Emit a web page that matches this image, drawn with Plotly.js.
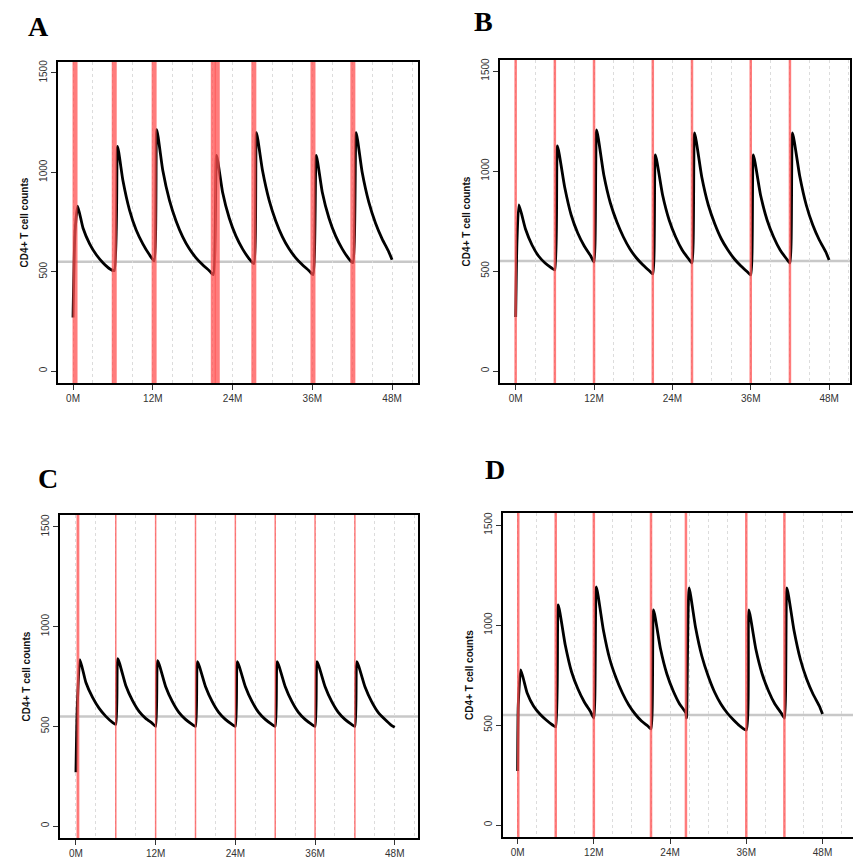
<!DOCTYPE html><html><head><script src="https://cdn.plot.ly/plotly-3.0.1.min.js"></script></head><body style="margin:0"><div id="g" style="width:853px;height:862px"></div><script>
// Panel A
var doseA=[0.3,6.2,12.2,21.1,21.7,27.2,36.1,42.1];
var xA=[0,0.3,0.7,1.5,2.5,3.5,4.5,5.5,6.2,6.7,7.5,8.5,9.5,10.5,11.5,12.2,12.6,13.5,14.5,15.5,16.5,17.5,18.5,19.5,20.5,21.1,21.6,22.5,23.5,24.5,25.5,26.5,27.2,27.6,28.5,29.5,30.5,31.5,32.5,33.5,34.5,35.5,36.1,36.6,37.5,38.5,39.5,40.5,41.5,42.1,42.6,43.5,44.5,45.5,46.5,47.5,48];
var yA=[270,700,830,720,640,585,545,515,505,1130,960,810,710,640,585,555,1215,1010,860,755,675,615,570,535,505,485,1085,900,770,680,615,565,540,1200,1010,860,755,675,615,570,535,505,485,1085,900,770,680,615,565,545,1200,1000,850,745,665,600,560];
// Panel B
var doseB=[0,6,12,21,27,36,42];
var xB=[0,0.2,0.5,1.5,2.5,3.5,4.5,5.5,6,6.4,7.5,8.5,9.5,10.5,11.5,12,12.4,13.5,14.5,15.5,16.5,17.5,18.5,19.5,20.5,21,21.4,22.5,23.5,24.5,25.5,26.5,27,27.4,28.5,29.5,30.5,31.5,32.5,33.5,34.5,35.5,36,36.4,37.5,38.5,39.5,40.5,41.5,42,42.4,43.5,44.5,45.5,46.5,47.5,48];
var yB=[270,650,830,710,630,575,540,515,505,1125,920,780,690,625,575,545,1205,980,840,745,670,610,565,530,500,485,1080,880,755,670,605,560,540,1190,970,830,735,660,605,560,525,495,480,1080,880,755,670,605,560,540,1190,975,830,730,655,595,555];
// Panel C
var doseC=[0.2,0.4,6,12,18,24,30,36,42];
var xC=[0,0.2,0.6,1.5,2.5,3.5,4.5,5.5,6,6.3,7.5,8.5,9.5,10.5,11.5,12,12.3,13.5,14.5,15.5,16.5,17.5,18,18.3,19.5,20.5,21.5,22.5,23.5,24,24.3,25.5,26.5,27.5,28.5,29.5,30,30.3,31.5,32.5,33.5,34.5,35.5,36,36.3,37.5,38.5,39.5,40.5,41.5,42,42.3,43.5,44.5,45.5,46.5,47.5,48];
var yC=[270,600,835,720,645,590,550,520,510,840,705,630,575,540,515,500,830,700,625,570,535,510,500,825,700,625,570,535,510,500,825,700,625,570,535,510,500,825,700,625,570,535,510,500,825,700,625,570,535,510,500,825,700,625,570,535,505,495];
// Panel D
var doseD=[0.1,6,12,21,26.5,36,42];
var xD=[0,0.1,0.5,1.5,2.5,3.5,4.5,5.5,6,6.4,7.5,8.5,9.5,10.5,11.5,12,12.4,13.5,14.5,15.5,16.5,17.5,18.5,19.5,20.5,21,21.4,22.5,23.5,24.5,25.5,26.5,26.6,27,28,29,30,31,32,33,34,35,36,36.4,37.5,38.5,39.5,40.5,41.5,42,42.4,43.5,44.5,45.5,46.5,47.5,48];
var yD=[270,600,775,660,595,555,525,500,490,1100,900,765,680,615,565,535,1190,975,830,735,660,600,555,520,495,480,1075,880,755,670,605,560,535,1185,990,845,745,665,605,560,525,495,475,1075,880,755,670,605,560,535,1185,975,830,730,655,595,555];
var threshold=550;
var tickLabels=['0M','12M','24M','36M','48M'];

var panels=[
 {x:xA,y:yA,d:doseA,dom:[[58/853,418/853],[1-383/862,1-62/862]],xr:[-2.26,51.9],yr:[-60,1555],rw:5,lab:'A',lx:38,ly:26},
 {x:xB,y:yB,d:doseB,dom:[[500/853,850/853],[1-383/862,1-60/862]],xr:[-2.4,51.2],yr:[-60,1555],rw:2.5,lab:'B',lx:483,ly:22},
 {x:xC,y:yC,d:doseC,dom:[[60/853,418/853],[1-838/862,1-515/862]],xr:[-2.4,51.5],yr:[-60,1560],rw:1.5,lab:'C',lx:48,ly:478},
 {x:xD,y:yD,d:doseD,dom:[[503/853,853/853],[1-837/862,1-513/862]],xr:[-2.3,52.8],yr:[-60,1560],rw:2.5,lab:'D',lx:495,ly:470}
];
var data=[],shapes=[],ann=[],layout={width:853,height:862,margin:{l:0,r:0,t:0,b:0},showlegend:false,paper_bgcolor:'white',plot_bgcolor:'white',font:{family:'Liberation Sans, Arial',color:'#222'}};
panels.forEach(function(p,i){
 var s=i?String(i+1):'';
 var xa='x'+s, ya='y'+s;
 p.d.forEach(function(v){shapes.push({type:'line',xref:xa,yref:ya,x0:v,x1:v,y0:p.yr[0],y1:p.yr[1],line:{color:'rgba(255,80,80,0.75)',width:p.rw},layer:'above'});});
 shapes.push({type:'line',xref:xa+' domain',yref:ya,x0:0,x1:1,y0:threshold,y1:threshold,line:{color:'#c8c8c8',width:2.5},layer:'below'});
 data.push({x:p.x,y:p.y,xaxis:xa,yaxis:ya,mode:'lines',line:{color:'black',width:2.8,shape:'spline',smoothing:0.5},hoverinfo:'skip'});
 layout['xaxis'+s]={domain:p.dom[0],anchor:ya,range:p.xr,tickvals:[0,12,24,36,48],ticktext:tickLabels,showgrid:false,zeroline:false,showline:true,mirror:true,linecolor:'black',linewidth:2,ticks:'outside',ticklen:5,tickcolor:'#333',tickfont:{size:10,color:'#333'},
  minor:{dtick:3,tick0:0,showgrid:true,gridcolor:'#dcdcdc',griddash:'dot',gridwidth:1,ticks:''}};
 layout['yaxis'+s]={domain:p.dom[1],anchor:xa,range:p.yr,tickvals:[0,500,1000,1500],tickangle:-90,showgrid:false,zeroline:false,showline:true,mirror:true,linecolor:'black',linewidth:2,ticks:'outside',ticklen:5,tickcolor:'#333',tickfont:{size:10,color:'#333'},
  title:{text:'<b>CD4+ T cell counts</b>',font:{size:10,color:'#111'},standoff:8}};
 ann.push({xref:'paper',yref:'paper',x:p.lx/853,y:1-p.ly/862,text:'<b>'+p.lab+'</b>',showarrow:false,xanchor:'center',yanchor:'middle',font:{family:'Liberation Serif, Times New Roman',size:28,color:'black'}});
});
layout.shapes=shapes;layout.annotations=ann;
Plotly.newPlot('g',data,layout,{displayModeBar:false});
</script></body></html>
